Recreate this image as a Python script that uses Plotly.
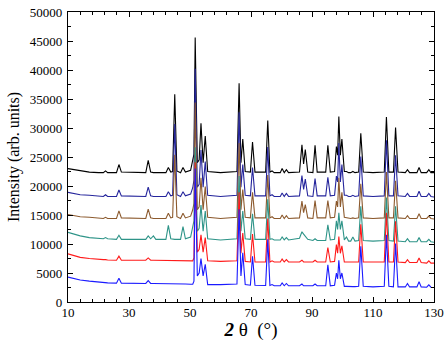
import plotly.graph_objects as go

# 2-theta sampling positions (degrees) shared by all patterns
two_theta = [10, 12, 14, 17, 20, 21.6, 22.3, 23.0, 25.9, 26.7, 27.5, 31, 35.5, 36.3, 37.1, 38.0, 38.8,
             42.1, 42.9, 43.7, 44.3, 45.0, 45.7, 46.9, 47.7, 48.5, 50.2, 50.9, 51.3, 51.7, 52.4, 53.0,
             53.6, 54.3, 55.0, 55.8, 60, 65.4, 66.1, 66.7, 67.3, 68.1, 69.8, 70.5, 71.3, 74.8, 75.5,
             76.2, 76.9, 77.6, 79.6, 80.2, 80.9, 81.6, 82.3, 85.9, 86.7, 87.25, 87.8, 88.6, 90.3, 91.0,
             91.7, 94.5, 95.2, 96.0, 97.4, 98.0, 98.4, 98.8, 99.3, 99.8, 100.6, 101.3, 102.0, 102.7,
             103.4, 104.1, 105.3, 106.0, 106.8, 110, 113.7, 114.4, 115.2, 116.7, 117.4, 118.2, 120.6,
             121.3, 122.0, 124.4, 125.1, 125.8, 127.6, 128.3, 129.0, 130]

black = [23000, 22800, 22600, 22400, 22300, 22300, 22600, 22300, 22300, 23700, 22400, 22300, 22300, 24400,
         22400, 22300, 22300, 22300, 23200, 22400, 22500, 35800, 22600, 22300, 23200, 22400, 22700, 24300,
         25500, 45600, 24000, 24500, 30800, 24000, 28600, 22500, 22300, 22500, 37700, 24000, 28100, 22500,
         22400, 27600, 22400, 22400, 31300, 22400, 22600, 22300, 22300, 23000, 22300, 22800, 22300, 22400,
         27100, 23800, 26300, 22400, 22300, 27000, 22400, 22400, 27000, 22400, 22500, 26800, 25300, 32000,
         25300, 28100, 22500, 22500, 22300, 22300, 22500, 22300, 22400, 29100, 22400, 22300, 22400, 31900,
         22400, 22400, 30100, 22400, 22300, 22800, 22300, 22300, 23200, 22300, 22300, 22800, 22300, 22300]

navy = [18900, 18700, 18500, 18400, 18200, 18200, 18500, 18200, 18200, 19300, 18300, 18200, 18200, 19800,
        18300, 18200, 18200, 18200, 19000, 18300, 18400, 30700, 18500, 18200, 19000, 18300, 18600, 19700,
        21000, 40200, 19800, 20300, 26200, 19800, 24200, 18400, 18200, 18400, 32700, 19800, 23700, 18400,
        18300, 23200, 18300, 18300, 26700, 18300, 18500, 18200, 18200, 18800, 18200, 18700, 18200, 18300,
        21800, 19400, 21200, 18300, 18200, 21300, 18300, 18300, 21500, 18300, 18400, 21700, 20700, 27400,
        20700, 23700, 18400, 18400, 18200, 18200, 18400, 18200, 18300, 25100, 18300, 18200, 18300, 27900,
        18300, 18300, 25300, 18300, 18200, 18700, 18200, 18200, 19100, 18200, 18200, 18700, 18200, 18100]

brown = [15100, 14900, 14700, 14600, 14400, 14400, 14600, 14400, 14400, 15700, 14500, 14400, 14400, 16000,
         14500, 14400, 14400, 14400, 15300, 14500, 14600, 25400, 14700, 14400, 15300, 14500, 14800, 15900,
         17000, 34400, 15900, 16400, 21400, 15900, 19900, 14600, 14400, 14600, 27400, 15900, 19400, 14600,
         14500, 18900, 14500, 14500, 21900, 14500, 14700, 14400, 14400, 15000, 14400, 14900, 14400, 14500,
         17400, 15400, 16800, 14500, 14400, 17500, 14500, 14500, 17500, 14500, 14600, 17400, 16400, 21400,
         16400, 18900, 14600, 14500, 14400, 14400, 14500, 14400, 14500, 20400, 14500, 14400, 14500, 22400,
         14500, 14500, 20900, 14500, 14400, 14900, 14400, 14400, 15200, 14400, 14400, 14800, 14400, 14300]

teal = [12000, 11700, 11400, 11100, 10900, 10900, 11100, 10900, 10800, 11500, 10800, 10800, 10800, 11400,
        10900, 11400, 10800, 10800, 13200, 10900, 10800, 10800, 10800, 10800, 13000, 10900, 11200, 13200,
        14000, 26700, 12200, 12700, 16700, 12200, 15700, 10900, 10700, 10900, 21700, 12200, 15700, 10900,
        10800, 15200, 10800, 10800, 17700, 10800, 10900, 10700, 10700, 11200, 10700, 11100, 10700, 11000,
        12100, 11700, 11400, 10800, 10600, 10900, 10600, 10600, 13300, 10700, 10800, 14000, 12500, 15400,
        12500, 14000, 10700, 11200, 10500, 10500, 11200, 10500, 10600, 16500, 10600, 10500, 10600, 18000,
        10600, 10500, 16500, 10500, 10400, 10900, 10400, 10400, 11100, 10400, 10400, 10800, 10400, 10300]

red = [8300, 8000, 7700, 7500, 7300, 7300, 7300, 7250, 7200, 7900, 7200, 7200, 7200, 7600,
       7200, 7200, 7200, 7100, 7100, 7100, 7100, 7100, 7100, 7100, 7100, 7100, 7100, 7100,
       7600, 24100, 8600, 9100, 11600, 8600, 11100, 7100, 7000, 7100, 18900, 8400, 11900, 7000,
       6900, 11700, 6900, 6900, 14400, 6900, 7100, 6900, 6900, 7400, 6900, 7300, 6900, 6900,
       7200, 6900, 6900, 6900, 6900, 7200, 6900, 6900, 9400, 6900, 7000, 9900, 8400, 11300,
       8400, 9700, 6900, 6900, 6900, 6900, 6900, 6900, 6900, 13400, 6900, 6900, 6900, 15400,
       6900, 6900, 13900, 6900, 6800, 7300, 6800, 6800, 7600, 6800, 6700, 7100, 6700, 6700]

blue = [4300, 4000, 3800, 3600, 3400, 3350, 3300, 3300, 3250, 4100, 3250, 3200, 3200, 3700,
        3200, 3200, 3200, 3150, 3150, 3150, 3100, 3100, 3100, 3100, 3100, 3100, 3050, 3050,
        3600, 23000, 4500, 5000, 7500, 4500, 6500, 3000, 3000, 3100, 16000, 4500, 8500, 3000,
        2900, 7900, 2900, 2850, 10800, 2850, 3000, 2800, 2800, 3300, 2800, 3200, 2800, 2800,
        3100, 2800, 2800, 2800, 2800, 3100, 2800, 2800, 6400, 2800, 2900, 5000, 4000, 7200,
        4000, 5000, 2700, 2700, 2650, 2650, 2650, 2650, 2700, 9600, 2700, 2600, 2700, 11600,
        2700, 2600, 10100, 2600, 2600, 3200, 2600, 2600, 3500, 2600, 2550, 2950, 2550, 2500]

series = [("black", black, "#000000"), ("navy", navy, "#25259c"), ("brown", brown, "#8c5a2e"),
          ("teal", teal, "#2e9488"), ("red", red, "#ff1a1a"), ("blue", blue, "#1a1aff")]

x_ticks = [10, 30, 50, 70, 90, 110, 130]
y_ticks = list(range(0, 50001, 5000))

fig = go.Figure()
for name, ys, col in series:
    fig.add_trace(go.Scatter(x=two_theta, y=ys, mode="lines", name=name,
                             line=dict(color=col, width=1.1), showlegend=False))

font_family = "Times New Roman, Liberation Serif, serif"
axis_common = dict(showline=True, linecolor="black", linewidth=1.2, mirror="allticks",
                   ticks="inside", ticklen=5, tickwidth=1, tickcolor="black",
                   showgrid=False, zeroline=False, ticklabeloverflow="allow",
                   tickfont=dict(family=font_family, size=13, color="black"))

fig.update_layout(
    width=447, height=341,
    margin=dict(l=68, r=3, t=12, b=39),
    paper_bgcolor="white", plot_bgcolor="white",
    font=dict(family=font_family),
    xaxis=dict(range=[10, 130], tickvals=x_ticks, ticktext=[str(v) for v in x_ticks],
               minor=dict(dtick=4, tick0=10, ticks="inside", ticklen=3, tickcolor="black"),
               ticklabelstandoff=-2,
               title=dict(text="<b><i>2</i></b> θ\u00a0\u00a0(°)",
                          font=dict(family=font_family, size=19, color="black"), standoff=1),
               **axis_common),
    yaxis=dict(range=[0, 50000], tickvals=y_ticks, ticktext=[str(v) for v in y_ticks],
               minor=dict(dtick=2500, tick0=0, ticks="inside", ticklen=3, tickcolor="black"),
               ticklabelstandoff=2,
               title=dict(text="Intensity (arb. units)",
                          font=dict(family=font_family, size=16, color="black"), standoff=6),
               **axis_common),
)

fig.write_html("out.html")
